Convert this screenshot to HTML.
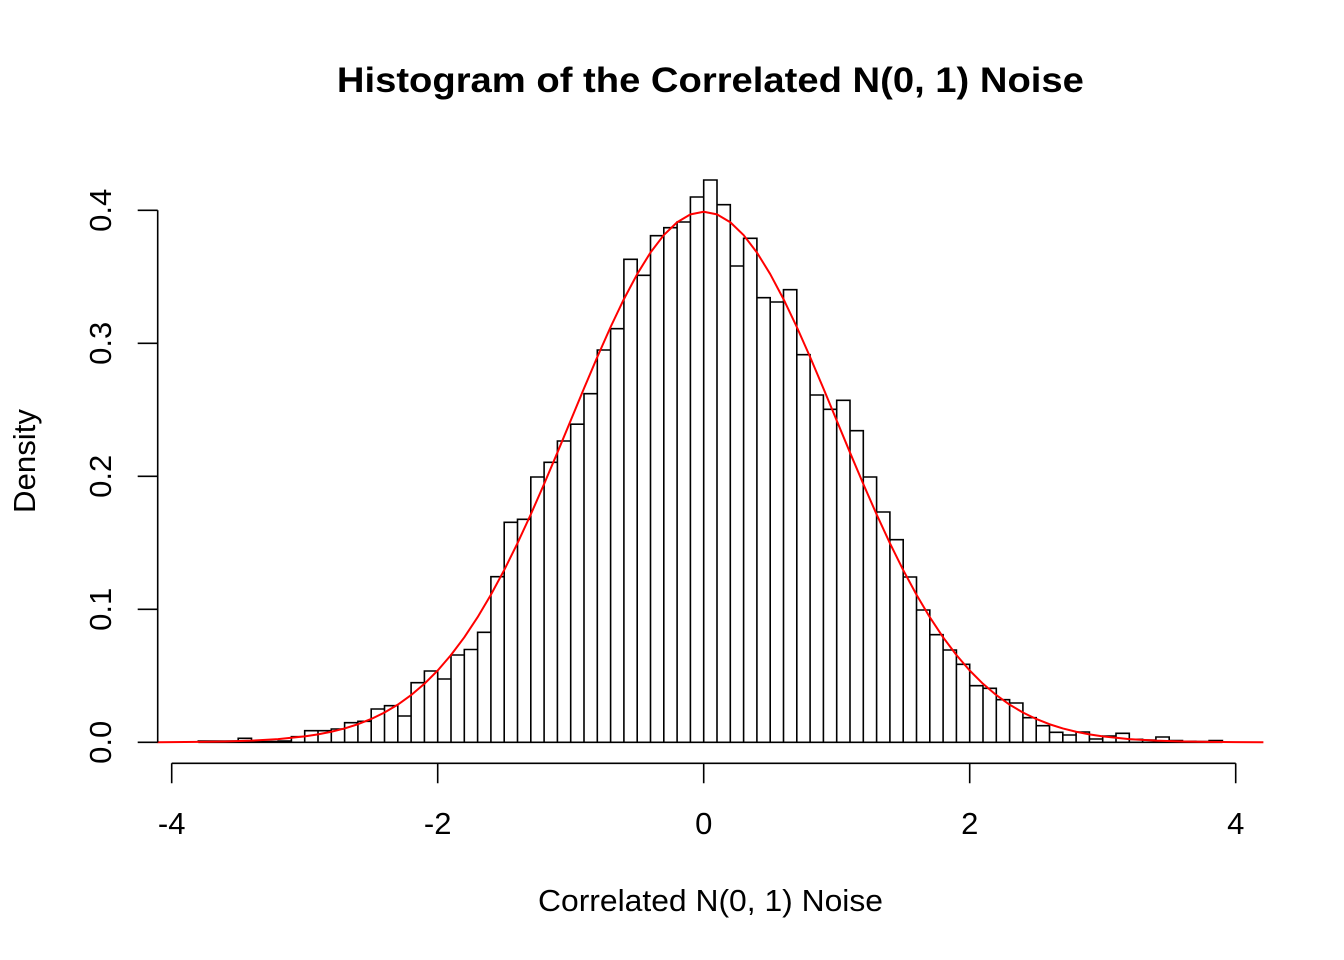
<!DOCTYPE html>
<html>
<head>
<meta charset="utf-8">
<style>
html,body{margin:0;padding:0;background:#fff;}
svg{display:block;}
text{font-family:"Liberation Sans",Arial,Helvetica,sans-serif;fill:#000;}
</style>
</head>
<body>
<svg width="1344" height="960" viewBox="0 0 1344 960" xmlns="http://www.w3.org/2000/svg">
<rect x="0" y="0" width="1344" height="960" fill="#fff"/>
<text x="710.4" y="92" font-size="35" font-weight="bold" text-anchor="middle" textLength="747" lengthAdjust="spacingAndGlyphs">Histogram of the Correlated N(0, 1) Noise</text>
<path fill="none" stroke="#000" stroke-width="1.6" d="M198.3,742.3V741H211.6V742.3 M211.6,742.3V741H224.9V742.3 M224.9,742.3V741H238.2V742.3 M238.2,742.3V738.3H251.5V742.3 M251.5,742.3V741.6H264.8V742.3 M264.8,742.3V741.6H278.1V742.3 M278.1,742.3V741H291.4V742.3 M291.4,742.3V736.7H304.7V742.3 M304.7,742.3V730.7H318V742.3 M318,742.3V730.7H331.3V742.3 M331.3,742.3V729H344.6V742.3 M344.6,742.3V722.7H357.9V742.3 M357.9,742.3V721.3H371.2V742.3 M371.2,742.3V709H384.5V742.3 M384.5,742.3V705.7H397.8V742.3 M397.8,742.3V716H411.1V742.3 M411.1,742.3V682.7H424.4V742.3 M424.4,742.3V671H437.7V742.3 M437.7,742.3V679H451V742.3 M451,742.3V655H464.3V742.3 M464.3,742.3V649.5H477.6V742.3 M477.6,742.3V632.3H490.9V742.3 M490.9,742.3V576.7H504.2V742.3 M504.2,742.3V522.3H517.5V742.3 M517.5,742.3V519.3H530.8V742.3 M530.8,742.3V477H544.1V742.3 M544.1,742.3V462.3H557.4V742.3 M557.4,742.3V441H570.7V742.3 M570.7,742.3V424.2H584V742.3 M584,742.3V393.7H597.3V742.3 M597.3,742.3V350H610.6V742.3 M610.6,742.3V328.7H623.9V742.3 M623.9,742.3V259.3H637.2V742.3 M637.2,742.3V275.3H650.5V742.3 M650.5,742.3V235.7H663.8V742.3 M663.8,742.3V227.7H677.1V742.3 M677.1,742.3V222H690.4V742.3 M690.4,742.3V197H703.7V742.3 M703.7,742.3V180H717V742.3 M717,742.3V204.7H730.3V742.3 M730.3,742.3V266H743.6V742.3 M743.6,742.3V238.3H756.9V742.3 M756.9,742.3V297.7H770.2V742.3 M770.2,742.3V302H783.5V742.3 M783.5,742.3V289.7H796.8V742.3 M796.8,742.3V354.7H810.1V742.3 M810.1,742.3V395H823.4V742.3 M823.4,742.3V409.3H836.7V742.3 M836.7,742.3V400.3H850V742.3 M850,742.3V430.7H863.3V742.3 M863.3,742.3V477H876.6V742.3 M876.6,742.3V512H889.9V742.3 M889.9,742.3V539.7H903.2V742.3 M903.2,742.3V577H916.5V742.3 M916.5,742.3V610H929.8V742.3 M929.8,742.3V634.7H943.1V742.3 M943.1,742.3V650H956.4V742.3 M956.4,742.3V664.3H969.7V742.3 M969.7,742.3V685.7H983V742.3 M983,742.3V688.3H996.3V742.3 M996.3,742.3V699.7H1009.6V742.3 M1009.6,742.3V703H1022.9V742.3 M1022.9,742.3V717.7H1036.2V742.3 M1036.2,742.3V725.7H1049.5V742.3 M1049.5,742.3V732.3H1062.8V742.3 M1062.8,742.3V735H1076.1V742.3 M1076.1,742.3V732H1089.4V742.3 M1089.4,742.3V739H1102.7V742.3 M1102.7,742.3V736H1116V742.3 M1116,742.3V733.3H1129.3V742.3 M1129.3,742.3V739.3H1142.6V742.3 M1142.6,742.3V740H1155.9V742.3 M1155.9,742.3V737H1169.2V742.3 M1169.2,742.3V740.5H1182.5V742.3 M1182.5,742.3V741.3H1195.8V742.3 M1195.8,742.3V741.6H1209.1V742.3 M1209.1,742.3V740.5H1222.4V742.3 M198.3,742.3H1222.4"/>
<polyline fill="none" stroke="#ff0000" stroke-width="2" stroke-linejoin="round" points="157.3,742.23 171.7,742.12 198.3,741.91 224.9,741.49 251.5,740.66 278.1,739.13 304.7,736.41 318.0,734.38 331.3,731.77 344.6,728.44 357.9,724.24 371.2,718.99 384.5,712.52 397.8,704.63 411.1,695.12 424.4,683.80 437.7,670.49 451.0,655.03 464.3,637.30 477.6,617.22 490.9,594.77 504.2,570.04 517.5,543.16 530.8,514.38 544.1,484.03 557.4,452.56 570.7,420.48 584.0,388.41 597.3,357.01 610.6,327.00 623.9,299.11 637.2,274.06 650.5,252.50 663.8,235.06 677.1,222.22 690.4,214.36 703.7,211.71 717.0,214.36 730.3,222.22 743.6,235.06 756.9,252.50 770.2,274.06 783.5,299.11 796.8,327.00 810.1,357.01 823.4,388.41 836.7,420.48 850.0,452.56 863.3,484.03 876.6,514.38 889.9,543.16 903.2,570.04 916.5,594.77 929.8,617.22 943.1,637.30 956.4,655.03 969.7,670.49 983.0,683.80 996.3,695.12 1009.6,704.63 1022.9,712.52 1036.2,718.99 1049.5,724.24 1062.8,728.44 1076.1,731.77 1089.4,734.38 1102.7,736.41 1129.3,739.13 1155.9,740.66 1182.5,741.49 1209.1,741.91 1235.7,742.12 1263.4,742.23"/>
<path fill="none" stroke="#000" stroke-width="1.6" d="M171.7,763.3H1235.7 M171.7,763.3V783.3 M437.7,763.3V783.3 M703.7,763.3V783.3 M969.7,763.3V783.3 M1235.7,763.3V783.3"/>
<g font-size="31" text-anchor="middle">
<text x="171.7" y="834">-4</text>
<text x="437.7" y="834">-2</text>
<text x="703.7" y="834">0</text>
<text x="969.7" y="834">2</text>
<text x="1235.7" y="834">4</text>
</g>
<text x="710.5" y="911" font-size="31" text-anchor="middle" textLength="345" lengthAdjust="spacingAndGlyphs">Correlated N(0, 1) Noise</text>
<path fill="none" stroke="#000" stroke-width="1.6" d="M157.7,742.3V210.3 M157.7,742.3H137.7 M157.7,609.3H137.7 M157.7,476.3H137.7 M157.7,343.3H137.7 M157.7,210.3H137.7"/>
<g font-size="31" text-anchor="middle">
<text transform="translate(111,742.3) rotate(-90)">0.0</text>
<text transform="translate(111,609.3) rotate(-90)">0.1</text>
<text transform="translate(111,476.3) rotate(-90)">0.2</text>
<text transform="translate(111,343.3) rotate(-90)">0.3</text>
<text transform="translate(111,210.3) rotate(-90)">0.4</text>
</g>
<text transform="translate(35,461) rotate(-90)" font-size="31" text-anchor="middle" textLength="104" lengthAdjust="spacingAndGlyphs">Density</text>
</svg>
</body>
</html>
